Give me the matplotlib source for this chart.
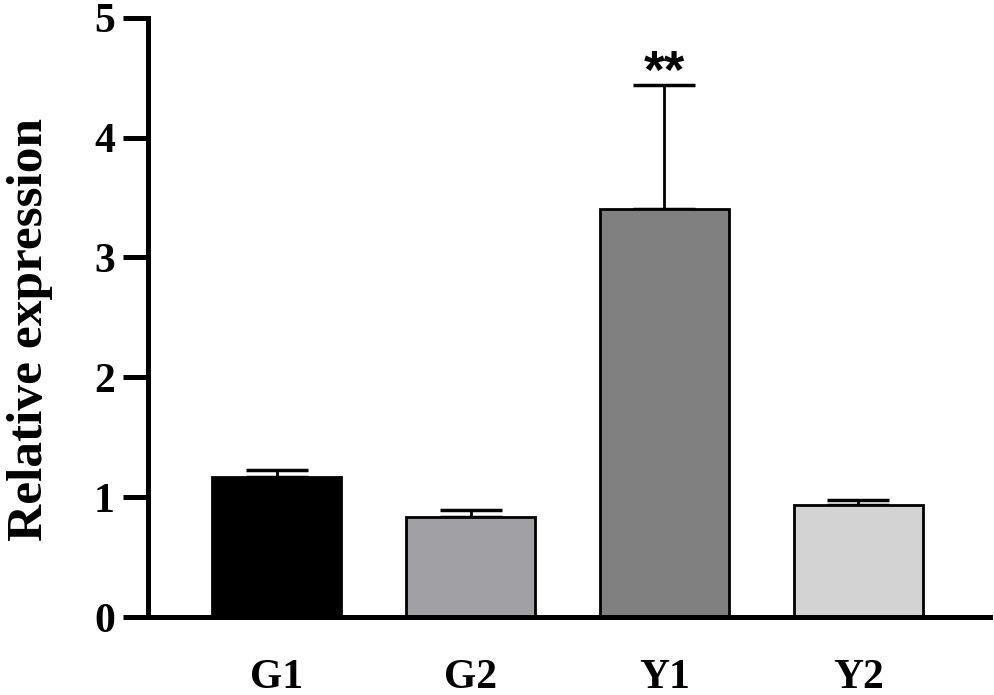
import matplotlib
matplotlib.use("Agg")
import matplotlib.pyplot as plt

categories = ["G1", "G2", "Y1", "Y2"]
values = [1.167, 0.838, 3.40, 0.936]
errors = [0.061, 0.058, 1.04, 0.042]
colors = ["#000000", "#a0a0a5", "#808080", "#d3d3d3"]
yticks = [0, 1, 2, 3, 4, 5]
sig_labels = ["", "", "**", ""]

plt.rcParams['font.family'] = ['Liberation Serif']
plt.rcParams['font.weight'] = 'bold'

fig = plt.figure(figsize=(9.94, 6.95), dpi=100)
ax = fig.add_axes([0.149, 0.1122, 0.847, 0.8623])

x = list(range(len(categories)))
ax.bar(x, values, width=0.666, color=colors, edgecolor="black", linewidth=2.0, zorder=2)
ax.errorbar(x, values, yerr=[[0]*len(errors), errors], fmt="none", ecolor="black",
            elinewidth=2.0, capsize=22.5, capthick=2.5, zorder=1)

for xi, v, e, s in zip(x, values, errors, sig_labels):
    if s:
        ax.text(xi, v + e - 0.12, s, ha="center", va="bottom", fontsize=38,
                fontweight="bold", family=["Liberation Sans"])

ax.set_xlim(-0.665, 3.68)
ax.set_ylim(0, 5)
ax.set_yticks(yticks)
ax.set_yticklabels([str(t) for t in yticks], fontsize=30, fontweight="bold")
ax.set_xticks(x)
ax.set_xticklabels(categories, fontsize=30, fontweight="bold")
ax.tick_params(axis="x", length=0, pad=30)
ax.tick_params(axis="y", length=18, width=3.6, pad=6, direction="out")
ax.set_ylabel("Relative expression", fontsize=37, fontweight="bold")
ax.yaxis.set_label_coords(-0.113, 0.479)

for side in ["top", "right"]:
    ax.spines[side].set_visible(False)
for side in ["left", "bottom"]:
    ax.spines[side].set_linewidth(3.6)

fig.savefig("out.png", dpi=100)
